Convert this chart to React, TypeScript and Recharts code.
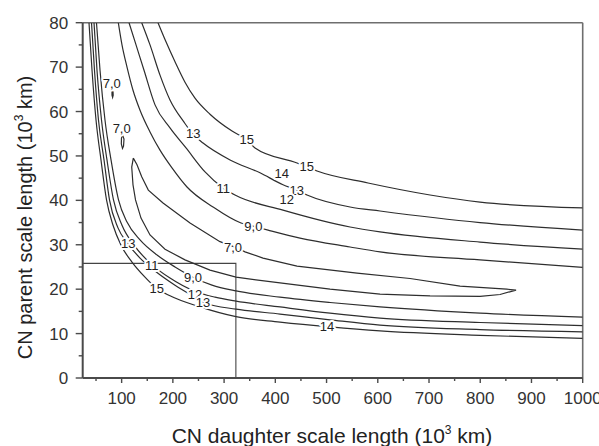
import React from 'react';
import { ComposedChart, Line, Scatter, XAxis, YAxis, ReferenceLine } from 'recharts';

const FONT = '"Liberation Sans", Arial, Helvetica, sans-serif';

// Axis ticks
const xTicks = [50, 100, 150, 200, 250, 300, 350, 400, 450, 500, 550, 600, 650, 700, 750, 800, 850, 900, 950, 1000];
const yTicks = [0, 5, 10, 15, 20, 25, 30, 35, 40, 45, 50, 55, 60, 65, 70, 75, 80];

// Upper contour lines (daughter, parent)
const c15Upper = [
  { x: 171, y: 80 }, { x: 186.6, y: 75.7 }, { x: 204.2, y: 71.2 }, { x: 223.7, y: 66.6 }, { x: 243.2, y: 63 },
  { x: 272.5, y: 59.4 }, { x: 315.5, y: 55.6 }, { x: 344.8, y: 53.6 }, { x: 360.4, y: 51.8 }, { x: 442.4, y: 48.4 },
  { x: 461.9, y: 47.5 }, { x: 481.4, y: 46.6 }, { x: 581, y: 43.9 }, { x: 702, y: 41.2 }, { x: 799.6, y: 39.6 }, { x: 1000, y: 38.3 },
];
const c13Upper = [
  { x: 139.2, y: 80 }, { x: 155.4, y: 75 }, { x: 174.9, y: 68.2 }, { x: 194.4, y: 62.6 }, { x: 221.8, y: 57.6 },
  { x: 239.3, y: 54.9 }, { x: 258.9, y: 52.9 }, { x: 311.6, y: 49.1 }, { x: 370.1, y: 46.2 }, { x: 415, y: 43.5 },
  { x: 442.4, y: 42.3 }, { x: 461.9, y: 41.2 }, { x: 545.9, y: 38.5 }, { x: 604.4, y: 37.6 }, { x: 799.6, y: 35 }, { x: 1000, y: 33.3 },
];
const c11Upper = [
  { x: 114.4, y: 80 }, { x: 128.1, y: 75 }, { x: 143.7, y: 69.3 }, { x: 165.2, y: 61.5 }, { x: 194.4, y: 56.3 },
  { x: 225.7, y: 51.8 }, { x: 262.8, y: 46.4 }, { x: 297.9, y: 42.8 }, { x: 321.3, y: 41.2 }, { x: 415, y: 37.8 },
  { x: 545.9, y: 34 }, { x: 604.4, y: 32.9 }, { x: 799.6, y: 30.6 }, { x: 1000, y: 29 },
];
const c9Upper = [
  { x: 93.5, y: 80 }, { x: 100.7, y: 75 }, { x: 110.5, y: 70 }, { x: 122.2, y: 64.8 }, { x: 135.9, y: 60.3 },
  { x: 155.4, y: 55.4 }, { x: 174.9, y: 51.3 }, { x: 198.3, y: 47.3 }, { x: 227.6, y: 43 }, { x: 278.4, y: 38.5 },
  { x: 333, y: 34.9 }, { x: 356.5, y: 34.2 }, { x: 385.8, y: 33.3 }, { x: 448.2, y: 31.5 }, { x: 545.9, y: 29.5 },
  { x: 604.4, y: 28.4 }, { x: 799.6, y: 26.6 }, { x: 1000, y: 24.9 },
];
// Closed 7.0 tongue
const c7Tongue = [
  { x: 122.8, y: 49.5 }, { x: 130, y: 48 }, { x: 139.2, y: 45.3 }, { x: 152.1, y: 42.3 }, { x: 180.8, y: 39.4 },
  { x: 233.5, y: 34.9 }, { x: 292, y: 30.7 }, { x: 325.2, y: 29.3 }, { x: 340.9, y: 28.4 }, { x: 376, y: 27 },
  { x: 442.4, y: 25.2 }, { x: 559.5, y: 23.6 }, { x: 663, y: 22.4 }, { x: 760.6, y: 20.7 }, { x: 851.8, y: 20 },
  { x: 869.9, y: 19.8 }, { x: 838.7, y: 18.8 }, { x: 799.6, y: 18.4 }, { x: 702, y: 18.5 }, { x: 604.4, y: 18.9 },
  { x: 506.8, y: 20 }, { x: 409.2, y: 21.4 }, { x: 323.3, y: 22.7 }, { x: 272.5, y: 24.3 }, { x: 223.7, y: 26.6 },
  { x: 184.7, y: 29 }, { x: 155.4, y: 32.2 }, { x: 137.8, y: 36 }, { x: 127.1, y: 40.1 }, { x: 122.2, y: 43.5 },
  { x: 119.7, y: 47.5 }, { x: 122.8, y: 49.5 },
];
// Small 7.0 islands
const c7IslandA = [
  { x: 81.2, y: 64.7 }, { x: 83.2, y: 64.4 }, { x: 83.5, y: 63.7 }, { x: 82.4, y: 63.2 }, { x: 81.2, y: 63.7 }, { x: 81.2, y: 64.7 },
];
const c7IslandB = [
  { x: 101.7, y: 54.7 }, { x: 104.6, y: 53.8 }, { x: 103.7, y: 52.2 }, { x: 101.7, y: 51.7 }, { x: 99.4, y: 52.7 },
  { x: 99.7, y: 54 }, { x: 101.7, y: 54.7 },
];
// Lower contour lines
const c15Lower = [
  { x: 36.3, y: 80 }, { x: 42.2, y: 69.3 }, { x: 50, y: 58.1 }, { x: 59.7, y: 49.1 }, { x: 70.5, y: 40.1 },
  { x: 83.2, y: 34.4 }, { x: 98.8, y: 29.9 }, { x: 120.2, y: 26.1 }, { x: 145.6, y: 22.7 }, { x: 167.1, y: 20.3 },
  { x: 194.4, y: 18.5 }, { x: 253, y: 16 }, { x: 323.3, y: 13.8 }, { x: 409.2, y: 12.6 }, { x: 506.8, y: 11.5 },
  { x: 604.4, y: 10.6 }, { x: 799.6, y: 9.6 }, { x: 1000, y: 8.9 },
];
const c13Lower = [
  { x: 41.2, y: 80 }, { x: 47, y: 69.3 }, { x: 54.8, y: 58.1 }, { x: 65.6, y: 49.1 }, { x: 76.3, y: 40.1 },
  { x: 92.9, y: 33.8 }, { x: 112.4, y: 30.2 }, { x: 135.9, y: 27 }, { x: 165.2, y: 24.1 }, { x: 204.2, y: 20.9 },
  { x: 243.2, y: 18.2 }, { x: 262.8, y: 16.9 }, { x: 323.3, y: 15.5 }, { x: 409.2, y: 14.4 }, { x: 506.8, y: 13.1 },
  { x: 604.4, y: 11.9 }, { x: 799.6, y: 10.9 }, { x: 1000, y: 10.4 },
];
const c11Lower = [
  { x: 46.1, y: 80 }, { x: 51.9, y: 69.3 }, { x: 60.7, y: 58.1 }, { x: 71.4, y: 49.1 }, { x: 84.1, y: 40.1 },
  { x: 100.7, y: 34.4 }, { x: 124.2, y: 29.9 }, { x: 157.3, y: 25.7 }, { x: 194.4, y: 22.5 }, { x: 241.3, y: 19.6 },
  { x: 282.3, y: 18.2 }, { x: 323.3, y: 17.3 }, { x: 409.2, y: 16 }, { x: 506.8, y: 14.6 }, { x: 604.4, y: 13.5 },
  { x: 799.6, y: 12.5 }, { x: 1000, y: 11.8 },
];
const c9Lower = [
  { x: 50.9, y: 80 }, { x: 57.8, y: 69.3 }, { x: 67.5, y: 58.1 }, { x: 79.3, y: 49.1 }, { x: 93.9, y: 40.1 },
  { x: 110.5, y: 35.1 }, { x: 135.9, y: 31.1 }, { x: 169.1, y: 27.7 }, { x: 204.2, y: 25 }, { x: 239.3, y: 22.7 },
  { x: 276.4, y: 20.9 }, { x: 323.3, y: 19.6 }, { x: 409.2, y: 18.2 }, { x: 506.8, y: 17 }, { x: 604.4, y: 16 },
  { x: 799.6, y: 14.6 }, { x: 1000, y: 13.7 },
];
// Marked region (box)
const boxLines = [{ x: 24, y: 25.8 }, { x: 323, y: 25.8 }, { x: 323, y: 0 }];

// Contour labels
const contourLabels = [
  { x: 80.6, y: 66.4, t: '7,0' },
  { x: 100.1, y: 56.2, t: '7,0' },
  { x: 239.9, y: 55.1, t: '13' },
  { x: 344.2, y: 53.6, t: '15' },
  { x: 412.5, y: 46.1, t: '14' },
  { x: 461.3, y: 47.6, t: '15' },
  { x: 441.8, y: 42.3, t: '13' },
  { x: 422.3, y: 40.1, t: '12' },
  { x: 298.5, y: 42.7, t: '11' },
  { x: 357.1, y: 34.2, t: '9,0' },
  { x: 317.4, y: 29.3, t: '7,0' },
  { x: 113, y: 30.3, t: '13' },
  { x: 158.7, y: 25.4, t: '11' },
  { x: 239.3, y: 22.7, t: '9,0' },
  { x: 168.5, y: 20.2, t: '15' },
  { x: 243.2, y: 18.7, t: '12' },
  { x: 258.9, y: 16.9, t: '13' },
  { x: 501, y: 11.7, t: '14' },
];

const openLines = [c15Upper, c13Upper, c11Upper, c9Upper, c15Lower, c13Lower, c11Lower, c9Lower];
const closedLines = [c7Tongue, c7IslandA, c7IslandB];

const LINE_COLOR = '#2e2e2e';
const AXIS_COLOR = '#4a4a4a';
const TEXT_COLOR = '#333';

const XTick = (props: any) => {
  const { x, y, payload } = props;
  const v = payload.value;
  const major = v % 100 === 0;
  return (
    <g>
      <line x1={x} y1={y} x2={x} y2={y + (major ? 5 : 3)} stroke={AXIS_COLOR} strokeWidth={1.4} />
      {major && (
        <text x={x} y={y + 26} textAnchor="middle" fontSize={17} fontFamily={FONT} fill={TEXT_COLOR}>
          {v}
        </text>
      )}
    </g>
  );
};

const YTick = (props: any) => {
  const { x, y, payload } = props;
  const v = payload.value;
  const major = v % 10 === 0;
  return (
    <g>
      <line x1={x} y1={y} x2={x - (major ? 7 : 4)} y2={y} stroke={AXIS_COLOR} strokeWidth={1.4} />
      {major && (
        <text x={x - 14.5} y={y + 6} textAnchor="end" fontSize={17} fontFamily={FONT} fill={TEXT_COLOR}>
          {v}
        </text>
      )}
    </g>
  );
};

const LabelShape = (props: any) => {
  const { cx, cy, payload } = props;
  return (
    <text
      x={cx}
      y={cy + 4.5}
      textAnchor="middle"
      fontSize={13}
      fontFamily={FONT}
      fill="#222"
      stroke="#fff"
      strokeWidth={4}
      paintOrder="stroke"
      strokeLinejoin="round"
    >
      {payload.t}
    </text>
  );
};

export default function App() {
  return (
    <div style={{ position: 'absolute', left: 0, top: 0, width: 599, height: 446, background: '#fff' }}>
      <ComposedChart
        width={599}
        height={446}
        margin={{ top: 22.7, right: 16.3, bottom: 28, left: 22.7 }}
      >
        <XAxis
          type="number"
          dataKey="x"
          domain={[24, 1000]}
          ticks={xTicks}
          interval={0}
          allowDataOverflow
          tick={<XTick />}
          tickLine={false}
          tickSize={0}
          tickMargin={0}
          height={40}
          axisLine={{ stroke: AXIS_COLOR, strokeWidth: 2 }}
        />
        <YAxis
          type="number"
          dataKey="y"
          domain={[0, 80]}
          ticks={yTicks}
          interval={0}
          allowDataOverflow
          tick={<YTick />}
          tickLine={false}
          tickSize={0}
          tickMargin={0}
          width={60}
          axisLine={{ stroke: AXIS_COLOR, strokeWidth: 2 }}
        />
        <ReferenceLine y={80} stroke="#6e6e6e" strokeWidth={1.6} ifOverflow="visible" />
        <ReferenceLine x={1000} stroke="#6e6e6e" strokeWidth={1.6} ifOverflow="visible" />
        <Line
          data={boxLines}
          dataKey="y"
          type="linear"
          stroke="#444"
          strokeWidth={1.1}
          dot={false}
          activeDot={false}
          isAnimationActive={false}
        />
        {openLines.map((d, i) => (
          <Line
            key={'o' + i}
            data={d}
            dataKey="y"
            type="monotone"
            stroke={LINE_COLOR}
            strokeWidth={1.2}
            dot={false}
            activeDot={false}
            isAnimationActive={false}
          />
        ))}
        {closedLines.map((d, i) => (
          <Line
            key={'c' + i}
            data={d}
            dataKey="y"
            type="linear"
            stroke={LINE_COLOR}
            strokeWidth={1.2}
            dot={false}
            activeDot={false}
            isAnimationActive={false}
          />
        ))}
        <Scatter data={contourLabels} dataKey="y" shape={<LabelShape />} isAnimationActive={false} />
      </ComposedChart>
      <svg
        width={599}
        height={446}
        style={{ position: 'absolute', left: 0, top: 0, pointerEvents: 'none' }}
      >
        <text x={332} y={442.5} textAnchor="middle" fontSize={21} fontFamily={FONT} fill="#222">
          CN daughter scale length (10
          <tspan fontSize={12} dy={-9}>3</tspan>
          <tspan dy={9}> km)</tspan>
        </text>
        <text
          x={31.5}
          y={217.5}
          transform="rotate(-90 31.5 217.5)"
          textAnchor="middle"
          fontSize={20}
          fontFamily={FONT}
          fill="#222"
        >
          CN parent scale length (10
          <tspan fontSize={12} dy={-9}>3</tspan>
          <tspan dy={9}> km)</tspan>
        </text>
      </svg>
    </div>
  );
}
